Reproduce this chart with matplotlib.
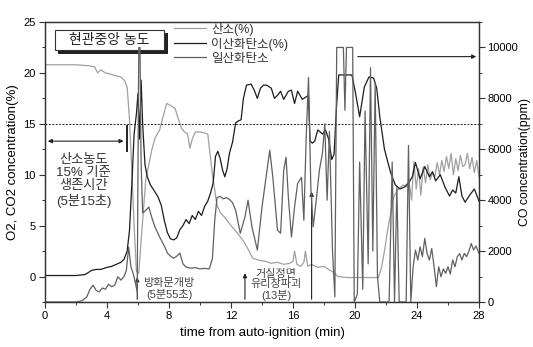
import matplotlib
matplotlib.use("Agg")
import matplotlib.pyplot as plt
from matplotlib.ticker import MultipleLocator
from matplotlib.patches import Rectangle

plt.rcParams['font.family'] = ['Liberation Sans', 'Noto Sans CJK KR', 'DejaVu Sans']

# O2 (%) - left axis
t_o2 = [0, 1.0, 2.0, 2.8, 3.2, 3.4, 3.6, 3.9, 4.2, 4.6,
        4.9, 5.15, 5.3, 5.45, 5.6, 5.75, 5.9, 6.05, 6.2, 6.35,
        6.5, 6.7, 6.9, 7.1, 7.4, 7.6, 7.85, 8.1, 8.4, 8.6,
        8.8, 9.0, 9.2, 9.35, 9.5, 9.7, 10.0, 10.3, 10.5, 10.65,
        10.8, 10.95, 11.1, 11.3, 11.6, 12.0, 12.4, 12.8, 13.1, 13.4,
        13.8, 14.2, 14.6, 15.0, 15.4, 15.8, 16.0, 16.1, 16.25, 16.5,
        16.7, 16.8, 16.95, 17.2, 17.6, 18.0, 18.4, 18.7, 18.9, 19.5,
        20.5, 21.5, 21.7, 21.9, 22.1, 22.3, 22.5, 22.7, 22.9, 23.1,
        23.3, 23.5, 23.65, 23.8, 23.95, 24.1, 24.25, 24.4, 24.55, 24.7,
        24.85, 25.0, 25.15, 25.3, 25.45, 25.6, 25.75, 25.9, 26.05, 26.2,
        26.35, 26.5, 26.65, 26.8, 26.95, 27.1, 27.25, 27.4, 27.55, 27.7,
        27.85, 28.0]
o2 = [20.8, 20.8, 20.8, 20.7, 20.6, 20.0, 20.3, 20.0, 19.9, 19.7,
      19.6, 19.2, 18.6, 15.5, 10.5, 5.0, 0.5, 0.3, 3.5, 6.5,
      9.5, 11.0, 12.5, 13.6, 14.4, 15.6, 17.0, 16.8, 16.5, 15.5,
      14.6, 14.2, 14.0, 12.6, 13.5, 14.2, 14.2, 14.1, 14.0, 12.0,
      10.0, 8.5, 7.0, 6.3, 5.8, 5.0, 4.3, 3.5, 2.7, 1.8,
      1.6, 1.5, 1.3, 1.4, 1.2, 1.3, 1.5, 2.5, 1.2, 1.0,
      1.4, 2.5, 1.0, 1.2, 0.9, 1.0, 0.6, 0.3, 0.0, -0.1,
      -0.1, -0.1, 0.8, 2.5, 4.5, 6.2, 7.8, 8.4, 8.7, 9.0,
      8.8, 9.2, 7.5, 11.3, 8.6, 10.6, 8.0, 10.8, 9.2, 11.0,
      9.5, 10.2, 9.8, 11.2, 10.0, 11.4, 10.3, 11.8, 10.6, 12.1,
      10.0, 11.6, 10.4, 11.9, 10.8, 11.0, 12.1, 10.6, 11.7, 10.2,
      11.4, 9.8]

# CO2 (%) - left axis
t_co2 = [0, 1.0, 2.0, 2.6, 3.0, 3.3, 3.6, 4.0, 4.3, 4.6,
         4.9, 5.1, 5.3, 5.45, 5.6, 5.75, 5.9, 6.0, 6.1, 6.2,
         6.3, 6.45, 6.6, 6.8, 7.1, 7.3, 7.5, 7.7, 7.9, 8.1,
         8.3, 8.5, 8.7, 8.9, 9.1, 9.3, 9.5, 9.7, 9.9, 10.1,
         10.3, 10.5, 10.7, 10.85, 11.0, 11.15, 11.3, 11.45, 11.6, 11.75,
         11.9, 12.1, 12.3, 12.5, 12.65, 12.8, 13.0, 13.3, 13.5, 13.7,
         13.9, 14.1, 14.3, 14.6, 14.8, 15.0, 15.2, 15.4, 15.7, 15.9,
         16.1, 16.3, 16.6, 16.8, 17.0, 17.1, 17.25, 17.4, 17.6, 17.9,
         18.1, 18.3, 18.5, 18.65, 18.8, 18.95, 19.8, 20.0, 20.3, 20.6,
         20.9, 21.2, 21.4, 21.6, 21.9, 22.3, 22.6, 22.9, 23.2, 23.5,
         23.7, 23.9, 24.2, 24.5, 24.8, 25.0, 25.2, 25.5, 25.8, 26.1,
         26.3, 26.5, 26.7, 26.9, 27.1, 27.4, 27.7, 28.0]
co2 = [0.1, 0.1, 0.1, 0.2, 0.6, 0.7, 0.7, 0.9, 1.0, 1.2,
       1.4, 1.7, 2.5, 4.5, 9.0, 14.0, 16.0, 18.0, 13.5, 19.3,
       15.0, 11.0, 9.8, 9.0, 8.3, 7.8, 7.0, 5.5, 4.3, 3.7,
       3.6, 3.8, 4.6, 5.0, 5.6, 5.2, 6.0, 5.6, 6.4, 6.0,
       6.9, 7.4, 8.3, 9.2, 11.8, 12.3, 11.6, 10.5, 9.8, 10.6,
       12.1, 13.2, 15.1, 15.3, 15.4, 17.5, 18.8, 18.9, 18.3, 17.5,
       18.5, 18.8, 18.8, 18.5, 17.5, 17.8, 18.2, 17.4, 18.2, 18.3,
       17.0, 18.2, 17.4, 17.6, 17.8, 13.3, 13.1, 13.3, 14.4, 14.0,
       14.4, 13.5, 11.5, 12.0, 16.5, 19.8, 19.8, 18.3, 15.7, 18.6,
       19.6, 19.5, 18.5, 15.7, 12.5, 10.2, 9.0, 8.6, 8.8, 9.3,
       9.8, 11.2, 9.6, 10.8, 9.8, 10.3, 9.4, 10.0, 8.8, 7.9,
       8.5, 8.2, 9.8, 7.9, 7.3, 8.0, 8.6, 7.4]

# CO (ppm) - right axis
t_co = [0, 1.0, 2.0, 2.4, 2.7, 2.9, 3.1, 3.3, 3.5, 3.7,
        3.9, 4.1, 4.3, 4.5, 4.7, 4.9, 5.1, 5.25, 5.4, 5.55,
        5.7, 5.85, 5.95, 6.05, 6.13, 6.2, 6.3, 6.5, 6.7, 6.9,
        7.1, 7.4, 7.7, 7.9, 8.1, 8.3, 8.5, 8.7, 8.9, 9.1,
        9.4, 9.7, 10.0, 10.3, 10.6, 10.8, 10.95, 11.1, 11.3, 11.5,
        11.7, 11.9, 12.1, 12.3, 12.6, 12.9, 13.1, 13.35, 13.7, 14.0,
        14.3, 14.5, 14.7, 15.0, 15.2, 15.4, 15.55, 15.7, 15.9, 16.1,
        16.3, 16.55, 16.7, 16.85, 17.0, 17.15, 17.3, 17.5, 17.7, 17.9,
        18.05, 18.2, 18.35, 18.55, 18.7, 18.82, 18.9, 19.25, 19.35, 19.45,
        19.85, 19.95, 20.15, 20.3, 20.5, 20.65, 20.85, 21.0, 21.15, 21.3,
        21.45, 21.6, 22.2, 22.4, 22.55, 22.7, 22.85, 23.3, 23.45, 23.6,
        23.75, 23.9, 24.05, 24.2, 24.35, 24.5, 24.65, 24.8, 24.95, 25.1,
        25.25, 25.4, 25.55, 25.7, 25.85, 26.0, 26.15, 26.3, 26.45, 26.6,
        26.75, 26.9, 27.05, 27.2, 27.35, 27.5, 27.65, 27.8, 28.0]
co = [0, 0, 0, 50, 200, 500, 660, 450, 400, 550,
      500, 700, 600, 660, 990, 860, 1000, 1250, 2160, 1370,
      1100, 700, 400, 10000, 10000, 5500, 3500, 3600, 3730, 3300,
      2940, 2550, 2200, 1920, 1800, 1720, 1800, 1920, 1500, 1370,
      1330, 1350, 1300, 1320, 1300, 1700, 3200, 4100, 4150, 4050,
      4100, 4030, 3900, 3610, 2700, 3340, 4000, 2950, 2040, 3730,
      5050, 5960, 4900, 2820, 2700, 5170, 5690, 4120, 2550, 3730,
      4660, 4900, 3210, 6470, 8820, 4510, 2950, 4000, 5170, 5840,
      7000, 4000, 6700, 2000, 200, 10000, 10000, 10000, 7530, 10000,
      10000, 0, 300, 5500, 500, 7500, 1500, 9200, 2000, 8600,
      1000, 0, 0, 5500, 0, 4500, 0, 0, 6150, 0,
      1385, 2040, 1650, 2170, 1780, 2500, 1910, 1650, 2100, 1400,
      600, 1385, 990, 1300, 1125, 1385, 1100, 1650, 1385, 1780,
      1900, 1650, 1910, 1780, 2000, 2300, 2040, 2200, 1910]

c_o2 = '#a0a0a0'
c_co2 = '#1c1c1c'
c_co = '#606060'

fig = plt.figure(figsize=(5.33, 3.47), dpi=100)
ax = fig.add_axes([0.0844, 0.1297, 0.8143, 0.8069])
ax2 = ax.twinx()

l1, = ax.plot(t_o2, o2, color=c_o2, lw=0.9, label='산소(%)')
l2, = ax.plot(t_co2, co2, color=c_co2, lw=0.9, label='이산화탄소(%)')
l3, = ax2.plot(t_co, co, color=c_co, lw=0.9, label='일산화탄소')

ax.set_xlim(0, 28)
ax.set_ylim(-2.5, 25)
ax2.set_ylim(0, 11000)

ax.xaxis.set_major_locator(MultipleLocator(4))
ax.xaxis.set_minor_locator(MultipleLocator(2))
ax.yaxis.set_major_locator(MultipleLocator(5))
ax.yaxis.set_minor_locator(MultipleLocator(2.5))
ax2.yaxis.set_major_locator(MultipleLocator(2000))
ax2.yaxis.set_minor_locator(MultipleLocator(1000))
for a in (ax, ax2):
    a.tick_params(which='major', length=4, width=0.8, labelsize=8, color='#333', pad=2.5)
    a.tick_params(which='minor', length=2.5, width=0.7, color='#333')
    for s in a.spines.values():
        s.set_color('#333')
        s.set_linewidth(0.9)
ax2.tick_params(which='major', pad=2)

ax.set_xlabel('time from auto-ignition (min)', fontsize=9.5, labelpad=4)
ax.set_ylabel('O2, CO2 concentration(%)', fontsize=9.5, labelpad=3)
ax2.set_ylabel('CO concentration(ppm)', fontsize=8.8, labelpad=0.5)

# 15% reference line
ax.axhline(15, color='#222', lw=0.7, ls=(0, (2, 1.5)))

# title box with shadow
ax.add_patch(Rectangle((0.031, 0.885), 0.252, 0.075, transform=ax.transAxes,
                       facecolor='#222', edgecolor='none', zorder=5))
ax.add_patch(Rectangle((0.023, 0.9), 0.252, 0.072, transform=ax.transAxes,
                       facecolor='white', edgecolor='#333', lw=0.8, zorder=6))
ax.text(0.149, 0.936, '현관중앙 농도', transform=ax.transAxes, ha='center', va='center',
        fontsize=10, color='#222', zorder=7)

leg = ax.legend(handles=[l1, l2, l3], loc='upper left', bbox_to_anchor=(0.285, 1.015),
                frameon=False, fontsize=9, handlelength=2.6, handletextpad=0.4,
                labelspacing=0.15, borderaxespad=0)
for txt in leg.get_texts():
    txt.set_color('#333')

# survival time annotation
ax.annotate('', xy=(5.25, 13.3), xytext=(0, 13.3),
            arrowprops=dict(arrowstyle='<|-|>', color='#222', lw=0.8, mutation_scale=6))
ax.plot([5.3, 5.3], [12.3, 14.8], color='#222', lw=1.4)
ax.text(2.5, 9.4, '산소농도\n15% 기준\n생존시간\n(5분15초)', ha='center', va='center',
        fontsize=9.5, color='#333', linespacing=1.15)

# event arrows
ax.annotate('', xy=(5.95, 0.2), xytext=(5.95, -2.5),
            arrowprops=dict(arrowstyle='-|>', color='#222', lw=0.8, mutation_scale=6))
ax.text(8.0, -1.2, '방화문개방\n(5분55초)', ha='center', va='center',
        fontsize=8, color='#444', linespacing=1.1)
ax.annotate('', xy=(12.9, 0.6), xytext=(12.9, -2.5),
            arrowprops=dict(arrowstyle='-|>', color='#222', lw=0.8, mutation_scale=6))
ax.annotate('', xy=(17.2, 8.6), xytext=(17.2, -2.5),
            arrowprops=dict(arrowstyle='-|>', color='#222', lw=0.8, mutation_scale=6))
ax.text(14.9, -0.8, '거실정면\n유리창파괴\n(13분)', ha='center', va='center',
        fontsize=8, color='#444', linespacing=1.05)

# arrow to CO axis
ax.annotate('', xy=(28, 21.6), xytext=(20.0, 21.6),
            arrowprops=dict(arrowstyle='-|>', color='#222', lw=0.8, mutation_scale=6))

fig.savefig('out.png', dpi=100)
